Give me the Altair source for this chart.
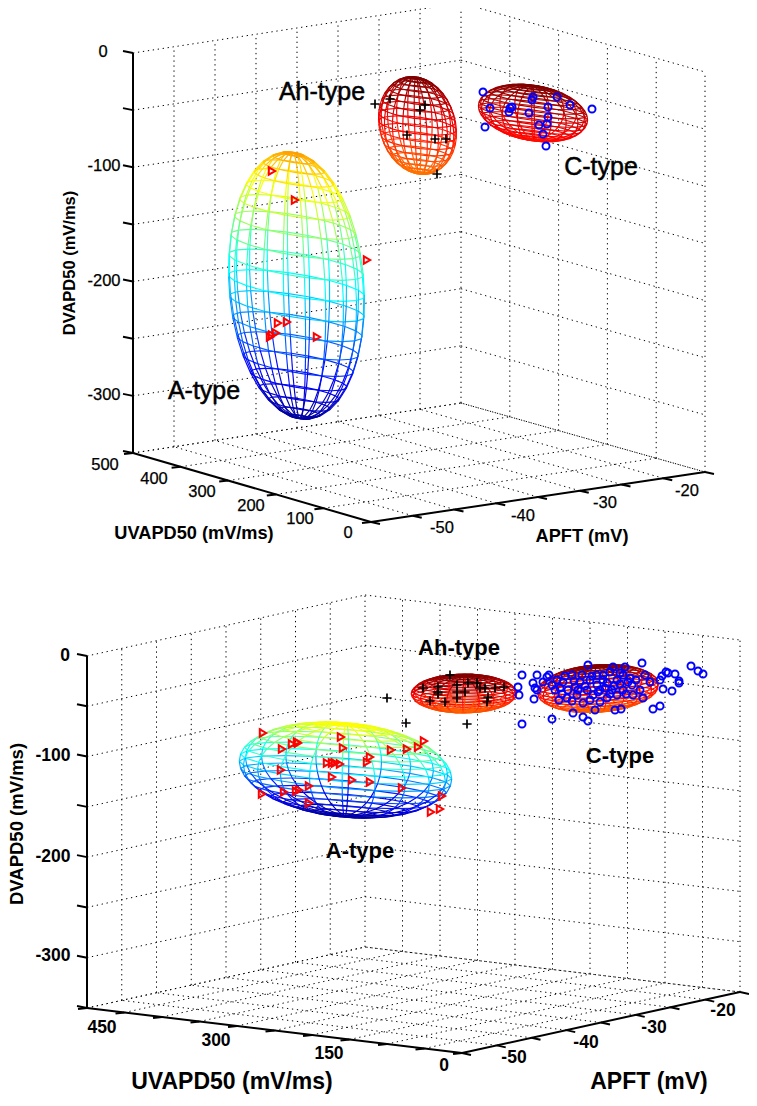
import numpy as np
import pandas as pd
import altair as alt

alt.data_transformers.disable_max_rows()

# ---------- axis values ----------
dv_ticks = [0, -50, -100, -150, -200, -250, -300, -350]
apft_ticks = [-55, -50, -45, -40, -35, -30, -25, -20, -15]
uv_ticks_top = [0, 100, 200, 300, 400, 500]
uv_ticks_bottom = [0, 50, 100, 150, 200, 250, 300, 350, 400, 450, 500]

# ---------- readings of the projected (view-plane) positions of the samples ----------
top_a = [(272,171),(295,200),(367,260),(278,323),(287,322),(270,337),(276,333),(272,335),(317,337)]
top_ah = [(375,104),(390,99),(425,105),(420,110),(407,135),(435,139),(446,139),(437,174)]
top_c = [(483,92),(490,108),(485,127),(510,108),(512,107),(509,112),(533,97),(532,100),(529,113),
         (548,107),(548,117),(539,125),(547,124),(543,134),(546,146),(557,97),(570,105),(592,109)]
bot_a = [(263,733),(282,749),(292,744),(297,742),(298,743),(281,770),(262,794),(284,792),(296,791),
         (299,790),(309,786),(309,803),(341,737),(343,748),(327,763),(332,763),(335,763),(340,764),
         (332,777),(352,780),(370,782),(370,757),(367,762),(391,750),(407,749),(418,747),(424,741),
         (402,788),(442,796),(431,812),(440,809)]
bot_ah = [(387,698),(406,723),(467,724),(423,688),(438,687),(438,692),(430,701),(457,685),(457,692),
          (457,698),(465,692),(468,683),(477,683),(480,688),(485,688),(495,688),(504,687),(488,697),
          (487,702),(450,675),(438,694),(445,702)]
bot_c = [(522,675),(518,687),(519,695),(534,699),(522,724),(552,719),(537,675),(533,683),(535,688),
         (537,690),(547,677),(543,682),(549,675),(552,685),(559,700),(573,713),(583,717),(588,721),
         (588,665),(615,710),(621,709),(595,710),(613,667),(625,667),(642,663),(653,709),(660,706),
         (663,689),(672,691),(679,683),(679,681),(675,674),(666,672),(668,673),(662,676),(660,680),
         (650,682),(691,666),(698,671),(703,674),(645,675),(643,698),
         (563,682),(572,675),(580,682),(568,690),(555,690),(567,698),(577,695),(590,680),(597,675),
         (600,690),(607,683),(617,680),(623,675),(632,685),(630,678),(640,690),(617,695),(607,698),
         (593,695),(587,690),(600,702),(583,703),(557,680),(633,695),(623,690),(612,690),(575,687),
         (582,675),(603,675),(610,672),(620,673),(597,685),
         (560,688),(565,676),(574,681),(585,686),(592,676),(598,692),(605,688),(614,686),(620,684),
         (628,682),(636,680),(626,694),(610,694),(590,700),(572,701),(562,694),(578,690),(603,680)]

# ---------- fitted ellipsoids: centre, semi-axis vectors in the view plane, colour range ----------
ellipsoids = [
    (296.5, 285.5, (-60, -15), (33, -5), (-3, -133), 0.03, 0.72),
    (417.5, 125.5, (-30, -9), (25, -3.5), (-2, -48), 0.76, 1.00),
    (533.0, 113.0, (-45, -10), (31, -2), (0, -27), 0.86, 1.00),
    (345.5, 770.0, (-100, -12), (36, -8), (0, -46), 0.03, 0.63),
    (464.0, 693.5, (-42, -5), (32, -7), (0, -17.5), 0.78, 1.00),
    (598.0, 688.5, (-42, -4), (44, -9), (0, -22), 0.78, 1.00),
]

# ---------- view set-up of the two 3-D boxes ----------
views = [
    dict(F=(371, 522), U=(-238, -69), A=(334, -50), Z=(0, -400), D=(-6, 0), umax=500, uv=uv_ticks_top),
    dict(F=(462, 1053), U=(-375, -45), A=(278, -61), Z=(0, -352), D=(0, 0), umax=500, uv=uv_ticks_bottom),
]


def project(v, u, a, z):
    s = u / v["umax"]
    t = (a + 55) / 40
    h = (z + 350) / 350
    return (v["F"][0] + v["U"][0] * s + v["A"][0] * t + v["Z"][0] * h + v["D"][0] * s * t,
            v["F"][1] + v["U"][1] * s + v["A"][1] * t + v["Z"][1] * h + v["D"][1] * s * t)


def seg(rows, p, q, **kw):
    rows.append(dict(x=p[0], y=p[1], x2=q[0], y2=q[1], **kw))


grid, axes = [], []
for v in views:
    um = v["umax"]
    for z in dv_ticks:
        seg(grid, project(v, um, -55, z), project(v, um, -15, z))
        seg(grid, project(v, um, -15, z), project(v, 0, -15, z))
    for a in apft_ticks[1:]:
        seg(grid, project(v, um, a, -350), project(v, um, a, 0))
    for u in v["uv"][:-1]:
        seg(grid, project(v, u, -15, -350), project(v, u, -15, 0))
    for a in apft_ticks[1:]:
        seg(grid, project(v, 0, a, -350), project(v, um, a, -350))
    for u in v["uv"][1:]:
        seg(grid, project(v, u, -55, -350), project(v, u, -15, -350))
    # solid axes
    seg(axes, project(v, um, -55, 0), project(v, um, -55, -350))
    seg(axes, project(v, um, -55, -350), project(v, 0, -55, -350))
    seg(axes, project(v, 0, -55, -350), project(v, 0, -15, -350))
    for z in dv_ticks:
        p = project(v, um, -55, z)
        seg(axes, p, (p[0] - 10, p[1] - 2))
    for u in v["uv"]:
        p = project(v, u, -55, -350)
        seg(axes, p, (p[0] - 9, p[1] + 1))
    for a in apft_ticks:
        p = project(v, 0, a, -350)
        seg(axes, p, (p[0] + 9, p[1] + 2))


def jet(t):
    r = np.clip(min(4 * t - 1.5, -4 * t + 4.5), 0, 1)
    g = np.clip(min(4 * t - 0.5, -4 * t + 3.5), 0, 1)
    b = np.clip(min(4 * t + 0.5, -4 * t + 2.5), 0, 1)
    return "#%02x%02x%02x" % (int(r * 255), int(g * 255), int(b * 255))


mesh = []
N = 20
for cx, cy, e1, e2, e3, lo, hi in ellipsoids:
    pts = {}
    cols = {}
    for i in range(N + 1):
        ph = -np.pi / 2 + np.pi * i / N
        cols[i] = jet(lo + (hi - lo) * (np.sin(ph) + 1) / 2)
        for j in range(N + 1):
            th = -np.pi + 2 * np.pi * j / N
            c1, c2, c3 = np.cos(ph) * np.cos(th), np.cos(ph) * np.sin(th), np.sin(ph)
            pts[i, j] = (cx + c1 * e1[0] + c2 * e2[0] + c3 * e3[0],
                         cy + c1 * e1[1] + c2 * e2[1] + c3 * e3[1])
    for i in range(N + 1):
        for j in range(N):
            seg(mesh, pts[i, j], pts[i, j + 1], c=cols[i])
    for i in range(N):
        for j in range(N):
            seg(mesh, pts[i, j], pts[i + 1, j], c=cols[i])

# ---------- text ----------
tick_text = [
    ("0",103,52),("-100",104,166),("-200",104,281),("-300",104,395),
    ("500",105,465),("400",154,479),("300",202,492),("200",251,506),("100",300,519),("0",348,533),
    ("-50",442,528),("-40",523,516),("-30",605,503),("-20",687,491),
]
tick_text_b = [
    ("0",65,656),("-100",53,756),("-200",53,857),("-300",53,956),
    ("450",102,1028),("300",216,1041),("150",329,1054),("0",444,1066),
    ("-50",514,1058),("-40",586,1043),("-30",654,1028),("-20",723,1011),
]
title_text = [("UVAPD50 (mV/ms)",194,534),("APFT (mV)",582,537)]
title_text_b = [("UVAPD50 (mV/ms)",232,1082),("APFT (mV)",649,1082)]
rot_text = [("DVAPD50 (mV/ms)",70,263)]
rot_text_b = [("DVAPD50 (mV/ms)",17,824)]
type_text = [("Ah-type",322,92),("C-type",601,167),("A-type",204,391)]
type_text_b = [("Ah-type",459,648),("C-type",620,756),("A-type",360,851)]

sx = alt.Scale(domain=[8, 749], nice=False, zero=False)
sy = alt.Scale(domain=[1098, 8], nice=False, zero=False)
X = alt.X("x:Q", scale=sx, axis=None)
Y = alt.Y("y:Q", scale=sy, axis=None)


def rules(rows, **mk):
    enc = dict(x=X, y=Y, x2="x2:Q", y2="y2:Q")
    if "c" in rows[0]:
        enc["stroke"] = alt.Color("c:N", scale=None)
    return alt.Chart(pd.DataFrame(rows)).mark_rule(**mk).encode(**enc)


def points(lst, **mk):
    df = pd.DataFrame(lst, columns=["x", "y"])
    return alt.Chart(df).mark_point(filled=False, opacity=1, **mk).encode(x=X, y=Y)


def texts(rows, **mk):
    df = pd.DataFrame(rows, columns=["t", "x", "y"])
    return alt.Chart(df).mark_text(font="Liberation Sans", color="black", baseline="middle", align="center", **mk).encode(x=X, y=Y, text="t:N")


plus = "M -1 0 L 1 0 M 0 -1 L 0 1"
layers = [
    rules(grid, color="black", strokeWidth=1, strokeDash=[1.3, 3.7]),
    rules(mesh, strokeWidth=1.15),
    points(top_c + bot_c, shape="circle", size=50, color="#0000ff", strokeWidth=1.9),
    points(top_ah + bot_ah, shape=plus, size=85, color="black", strokeWidth=1.7),
    points(top_a + bot_a, shape="triangle-right", size=55, color="#ff0000", strokeWidth=2),
    rules(axes, color="black", strokeWidth=2),
    texts(tick_text, fontSize=16.5, stroke="black", strokeWidth=0.25),
    texts(tick_text_b, fontSize=17.5, fontWeight="bold"),
    texts(title_text, fontSize=18.2, fontWeight="bold"),
    texts(title_text_b, fontSize=23, fontWeight="bold"),
    texts(rot_text, fontSize=16.5, fontWeight="bold", angle=270),
    texts(rot_text_b, fontSize=18.5, fontWeight="bold", angle=270),
    texts(type_text, fontSize=25, stroke="black", strokeWidth=0.5),
    texts(type_text_b, fontSize=22, fontWeight="bold"),
]

chart = alt.layer(*layers).properties(
    width=741, height=1090, padding=0, background="white",
    autosize=alt.AutoSizeParams(type="none"),
).configure_view(stroke=None)

chart.save("out.html", embed_options={"renderer": "svg", "actions": False})
